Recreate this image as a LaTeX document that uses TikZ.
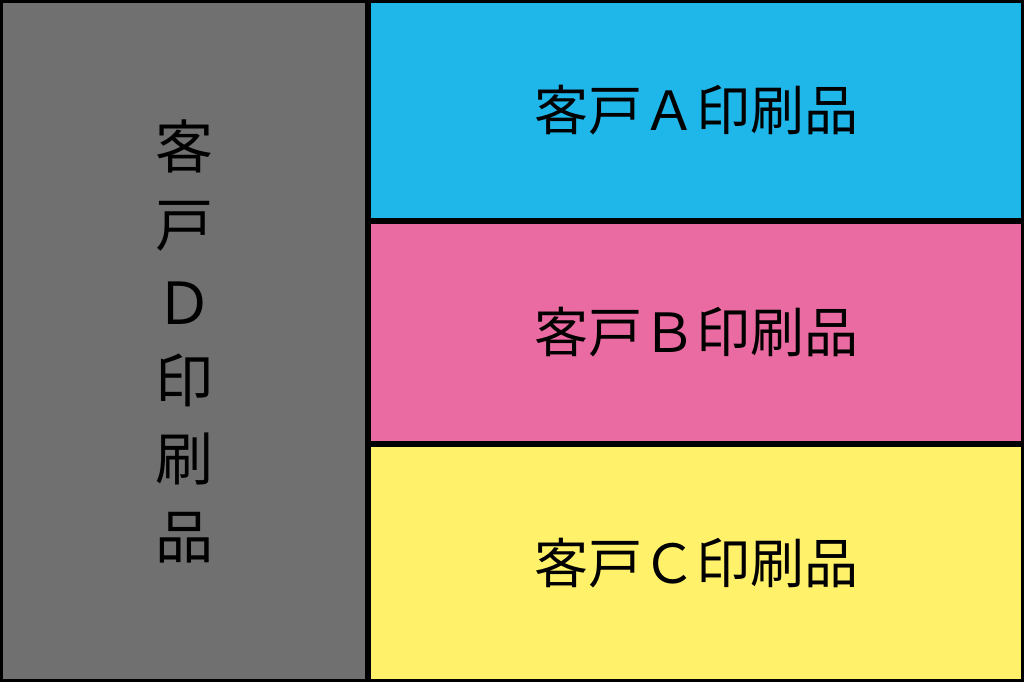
\documentclass[tikz,border=0pt]{standalone}
\usepackage{fontspec}
\newfontfamily\jpfont{Noto Sans CJK JP}
\usetikzlibrary{positioning}

\definecolor{custgray}{RGB}{112,112,112}
\definecolor{custcyan}{RGB}{31,182,234}
\definecolor{custpink}{RGB}{234,107,162}
\definecolor{custyellow}{RGB}{255,242,106}

\tikzset{
  jobbox/.style={draw=black, line width=3pt, outer sep=0pt, inner sep=0pt,
    font=\jpfont\fontsize{54}{78}\selectfont, text=black, align=center}
}

\begin{document}
\begin{tikzpicture}[x=1pt,y=-1pt]
\useasboundingbox (0,0) rectangle (1024,682);

\node[jobbox, fill=custgray, minimum width=365pt, minimum height=679pt,
  font=\jpfont\fontsize{58}{78}\selectfont] (boxD) at (184,341)
  {客\\戸\\Ｄ\\印\\刷\\品};
\node[jobbox, fill=custcyan, minimum width=653pt, minimum height=218pt] (boxA) at (696,110.5)
  {客戸Ａ印刷品};
\node[jobbox, fill=custpink, minimum width=653pt, minimum height=220pt] (boxB) at (696,332.5)
  {客戸Ｂ印刷品};
\node[jobbox, fill=custyellow, minimum width=653pt, minimum height=235pt] (boxC) at (696,563)
  {客戸Ｃ印刷品};
\end{tikzpicture}
\end{document}
